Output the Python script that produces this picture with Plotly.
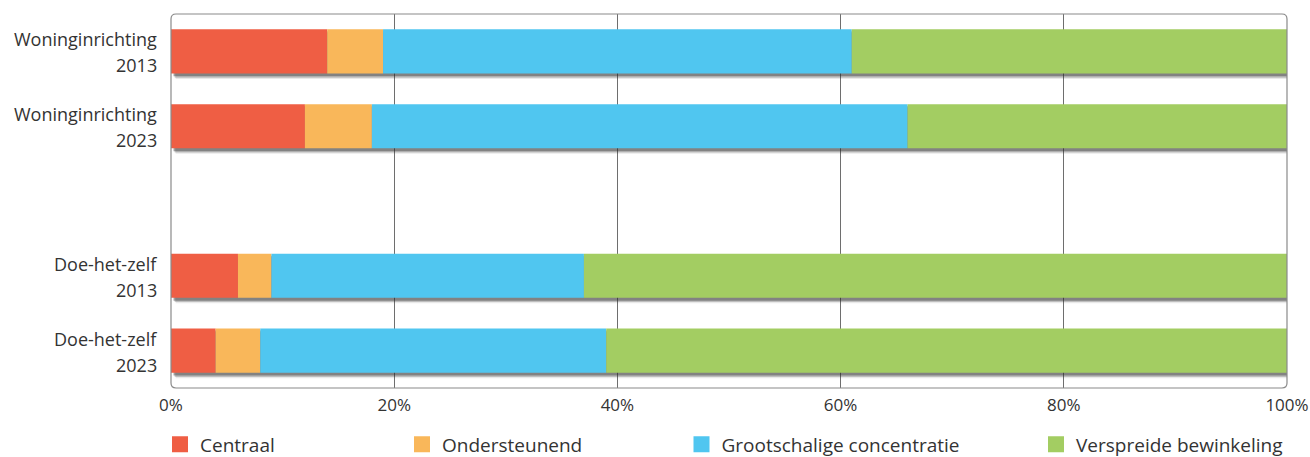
import numpy as np
import plotly.graph_objects as go

# Category slots (top to bottom); the empty slot separates the two sectors
categories = ["Woninginrichting 2013", "Woninginrichting 2023", "gap",
              "Doe-het-zelf 2013", "Doe-het-zelf 2023"]
label_names = ["Woninginrichting", "Woninginrichting", "", "Doe-het-zelf", "Doe-het-zelf"]
label_years = ["2013", "2023", "", "2013", "2023"]

series_names = ["Centraal", "Ondersteunend", "Grootschalige concentratie", "Verspreide bewinkeling"]
centraal = [14, 12, None, 6, 4]
ondersteunend = [5, 6, None, 3, 4]
grootschalig = [42, 48, None, 28, 31]
verspreid = [39, 34, None, 63, 61]

colors = ["#EF5E44", "#F9B75A", "#50C6F0", "#A3CD62"]
tick_vals = [0, 20, 40, 60, 80, 100]
tick_text = ["0%", "20%", "40%", "60%", "80%", "100%"]

FONT = "Open Sans"
TEXT = "#333333"

# figure geometry (pixels)
W, H = 1310, 457
ML, MR, MT = 171, 23, 14
PLOT_BOTTOM = 388
PW = W - ML - MR
PH = H - MT
legend_centers = [178, 420, 699.5, 1054]
legend_y = 444.5

series = [centraal, ondersteunend, grootschalig, verspreid]
arr = np.array([[np.nan if v is None else v for v in s] for s in series], dtype=float)
bases = np.vstack([np.zeros(arr.shape[1]), np.cumsum(arr, axis=0)[:-1]])
totals = np.nansum(arr, axis=0)

fig = go.Figure()

# soft drop shadow under each bar
bar_w = 0.59
shadow_layers = [(0.075, 0.04, 0.4), (0.11, 0.06, 0.22), (0.14, 0.08, 0.1)]
for shift, grow, alpha in shadow_layers:
    fig.add_trace(go.Bar(
        y=categories, x=[t if t > 0 else None for t in totals],
        base=[shift * 3] * len(categories),
        orientation="h", width=bar_w + grow * 0.3,
        offset=-bar_w / 2 + shift * 0.35,
        marker=dict(color=f"rgba(40,40,40,{alpha})", line=dict(width=0)),
        showlegend=False, hoverinfo="skip",
    ))

for i, name in enumerate(series_names):
    vals = [None if np.isnan(v) else v for v in arr[i]]
    fig.add_trace(go.Bar(
        y=categories, x=vals, base=bases[i], name=name,
        orientation="h", width=bar_w,
        marker=dict(color=colors[i], line=dict(width=0)),
        showlegend=False,
    ))

# legend keys: square swatches, one legend box per series
legend_layout = {}
for i, name in enumerate(series_names):
    key = "legend" if i == 0 else f"legend{i + 1}"
    fig.add_trace(go.Scatter(
        x=[None], y=[None], mode="markers", name=name,
        marker=dict(symbol="square", size=18, color=colors[i], line=dict(width=0)),
        legend=key, showlegend=True, hoverinfo="skip",
    ))
    legend_layout[key] = dict(
        x=(legend_centers[i] - 18 - ML) / PW, xanchor="left",
        y=(H - legend_y) / PH, yanchor="middle",
        orientation="h", bgcolor="rgba(0,0,0,0)", borderwidth=0,
        font=dict(family=FONT, size=19, color=TEXT),
    )

# two-line category labels left of the plot
for cat, nm, yr in zip(categories, label_names, label_years):
    if not nm:
        continue
    for txt, ys in ((nm, 12), (yr, -14)):
        fig.add_annotation(x=0, xref="paper", y=cat, yref="y", text=txt,
                           showarrow=False, xanchor="right", yanchor="middle",
                           xshift=-12, yshift=ys,
                           font=dict(family=FONT, size=18, color=TEXT))

# rounded frame around the plotting area
y0 = (H - PLOT_BOTTOM) / PH
rx, ry = 5 / PW, 5 / PH
frame = (f"M {rx},1 L {1 - rx},1 Q 1,1 1,{1 - ry} L 1,{y0 + ry} Q 1,{y0} {1 - rx},{y0} "
         f"L {rx},{y0} Q 0,{y0} 0,{y0 + ry} L 0,{1 - ry} Q 0,1 {rx},1 Z")
fig.add_shape(type="path", path=frame, xref="paper", yref="paper",
              line=dict(color="#8a8a8a", width=1.2), layer="above")

fig.update_layout(
    width=W, height=H,
    margin=dict(l=ML, r=MR, t=MT, b=0, autoexpand=False),
    paper_bgcolor="white", plot_bgcolor="white",
    barmode="overlay",
    font=dict(family=FONT, color=TEXT),
    xaxis=dict(range=[0, 100], tickvals=tick_vals, ticktext=tick_text,
               showgrid=True, gridcolor="#6e6e6e", gridwidth=1,
               zeroline=False, showline=False, ticks="", automargin=False,
               ticklabelstandoff=5,
               tickfont=dict(family=FONT, size=17, color=TEXT)),
    yaxis=dict(categoryorder="array", categoryarray=categories,
               range=[4.5, -0.5], showticklabels=False, showgrid=False,
               zeroline=False, showline=False, ticks="", automargin=False,
               domain=[y0, 1]),
    showlegend=True,
    **legend_layout,
)

fig.write_html("out.html")
